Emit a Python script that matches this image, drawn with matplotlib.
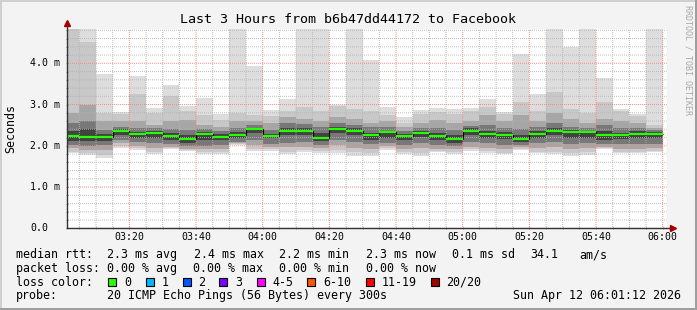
import matplotlib
matplotlib.use("Agg")
import matplotlib.pyplot as plt
import matplotlib.transforms as mtransforms
from matplotlib.patches import Rectangle
import numpy as np

# ---------------- data ----------------
bin_start = ["03:00", "03:05", "03:10", "03:15", "03:20", "03:25", "03:30", "03:35", "03:40", "03:45", "03:50", "03:55",
             "04:00", "04:05", "04:10", "04:15", "04:20", "04:25", "04:30", "04:35", "04:40", "04:45", "04:50", "04:55",
             "05:00", "05:05", "05:10", "05:15", "05:20", "05:25", "05:30", "05:35", "05:40", "05:45", "05:50", "05:55"]
bin_minutes = 5

# sorted-ping envelope per 5 minute step (ms): outer -> inner
ping_max = [5.5, 5.5, 3.74, 2.81, 3.69, 2.92, 3.47, 2.97, 3.17, 2.78, 5.5, 3.94,
            2.87, 3.14, 5.5, 5.5, 3.00, 5.5, 4.08, 2.95, 2.70, 2.87, 2.92, 2.90,
            2.92, 3.14, 2.82, 4.23, 3.26, 5.5, 4.39, 5.5, 3.64, 2.90, 2.78, 5.5]
ping_hi2 = [5.5, 4.52, 2.79, 2.76, 3.26, 2.80, 3.20, 2.85, 2.75, 2.62, 2.80, 2.75,
            2.72, 2.84, 2.95, 2.84, 2.96, 2.90, 2.85, 2.75, 2.55, 2.78, 2.83, 2.78,
            2.85, 2.95, 2.78, 3.07, 2.84, 3.31, 2.90, 2.80, 3.05, 2.85, 2.72, 2.50]
ping_hi3 = [2.79, 3.00, 2.60, 2.60, 2.60, 2.50, 2.60, 2.63, 2.50, 2.45, 2.60, 2.60,
            2.55, 2.70, 2.65, 2.60, 2.70, 2.65, 2.55, 2.60, 2.45, 2.55, 2.62, 2.55,
            2.60, 2.75, 2.60, 2.75, 2.60, 2.80, 2.65, 2.55, 2.65, 2.60, 2.55, 2.42]
ping_hi4 = [2.55, 2.60, 2.38, 2.45, 2.42, 2.42, 2.40, 2.38, 2.40, 2.35, 2.42, 2.50,
            2.38, 2.55, 2.52, 2.45, 2.55, 2.50, 2.45, 2.45, 2.35, 2.42, 2.42, 2.38,
            2.48, 2.50, 2.42, 2.40, 2.45, 2.55, 2.45, 2.42, 2.50, 2.42, 2.42, 2.38]
ping_hi5 = [2.35, 2.40, 2.28, 2.40, 2.34, 2.36, 2.30, 2.25, 2.33, 2.28, 2.33, 2.44,
            2.28, 2.42, 2.42, 2.32, 2.46, 2.42, 2.32, 2.37, 2.29, 2.36, 2.30, 2.25,
            2.42, 2.37, 2.33, 2.25, 2.35, 2.42, 2.38, 2.37, 2.35, 2.32, 2.35, 2.33]
median   = [2.24, 2.22, 2.22, 2.36, 2.29, 2.32, 2.24, 2.16, 2.29, 2.22, 2.27, 2.41,
            2.24, 2.37, 2.36, 2.19, 2.41, 2.36, 2.26, 2.33, 2.24, 2.32, 2.24, 2.16,
            2.36, 2.29, 2.26, 2.16, 2.29, 2.36, 2.33, 2.33, 2.25, 2.26, 2.29, 2.29]
ping_lo5 = [2.12, 2.12, 2.12, 2.25, 2.20, 2.20, 2.15, 2.08, 2.15, 2.15, 2.18, 2.30,
            2.18, 2.25, 2.25, 2.12, 2.30, 2.25, 2.15, 2.20, 2.14, 2.22, 2.15, 2.08,
            2.25, 2.20, 2.17, 2.10, 2.20, 2.25, 2.20, 2.20, 2.15, 2.17, 2.20, 2.20]
ping_lo4 = [2.02, 2.00, 2.02, 2.15, 2.10, 2.08, 2.05, 2.00, 2.00, 2.03, 2.10, 2.15,
            2.05, 2.08, 2.10, 2.03, 2.15, 2.10, 2.05, 2.08, 2.02, 2.08, 2.02, 2.00,
            2.10, 2.06, 2.02, 2.02, 2.06, 2.10, 2.05, 2.06, 2.05, 2.04, 2.05, 2.05]
ping_lo3 = [1.94, 1.90, 1.90, 2.07, 2.00, 1.95, 1.98, 1.93, 1.92, 1.93, 2.06, 2.02,
            1.97, 1.96, 1.98, 1.95, 2.02, 1.95, 1.92, 2.00, 1.93, 1.95, 1.92, 1.92,
            1.98, 1.95, 1.92, 1.96, 1.94, 1.98, 1.92, 1.94, 1.98, 1.93, 1.93, 1.95]
ping_lo2 = [1.86, 1.82, 1.78, 2.00, 1.94, 1.85, 1.95, 1.90, 1.84, 1.84, 2.04, 1.93,
            1.92, 1.86, 1.90, 1.88, 1.90, 1.85, 1.82, 1.94, 1.85, 1.82, 1.88, 1.85,
            1.92, 1.87, 1.83, 1.93, 1.86, 1.86, 1.82, 1.84, 1.95, 1.86, 1.86, 1.88]
ping_min = [1.82, 1.78, 1.71, 1.94, 1.90, 1.79, 1.92, 1.87, 1.79, 1.79, 2.02, 1.88,
            1.88, 1.79, 1.86, 1.82, 1.82, 1.75, 1.75, 1.90, 1.80, 1.75, 1.85, 1.80,
            1.88, 1.83, 1.80, 1.90, 1.82, 1.80, 1.76, 1.77, 1.93, 1.82, 1.83, 1.86]

x_tick_labels = ["03:20", "03:40", "04:00", "04:20", "04:40", "05:00", "05:20", "05:40", "06:00"]
y_tick_values = [0, 1, 2, 3, 4]
y_tick_labels = ["0.0", "1.0 m", "2.0 m", "3.0 m", "4.0 m"]

title = "Last 3 Hours from b6b47dd44172 to Facebook"
rtt_stats = ["median rtt:", "2.3 ms avg", "2.4 ms max", "2.2 ms min", "2.3 ms now", "0.1 ms sd", "34.1", "am/s"]
loss_stats = ["packet loss:", "0.00 % avg", "0.00 % max", "0.00 % min", "0.00 % now"]
loss_labels = ["0", "1", "2", "3", "4-5", "6-10", "11-19", "20/20"]
loss_colors = ["#26ff00", "#00b8ff", "#0059ff", "#7e00ff", "#ff00ff", "#ff5500", "#ff0000", "#a10000"]
probe_text = ["probe:", "20 ICMP Echo Pings (56 Bytes) every 300s", "Sun Apr 12 06:01:12 2026"]

# ---------------- helpers ----------------
def hm(s):
    h, m = s.split(":")
    return int(h) * 60 + int(m)

x0 = np.array([hm(s) for s in bin_start], dtype=float)
edges = np.append(x0, x0[-1] + bin_minutes)

W, H = 697, 310
FONT = "DejaVu Sans Mono"
plt.rcParams["font.family"] = [FONT]

fig = plt.figure(figsize=(W / 100, H / 100), dpi=100)
fig.patch.set_facecolor("#f3f3f3")

def px(x, y):
    return (x / W, 1 - y / H)

# frame (rrdtool shading)
fig.add_artist(Rectangle((0, 1 - 2 / H), 1, 2 / H, transform=fig.transFigure, color="#cfcfcf", lw=0))
fig.add_artist(Rectangle((0, 0), 2 / W, 1, transform=fig.transFigure, color="#cfcfcf", lw=0))
fig.add_artist(Rectangle((1 - 2 / W, 0), 2 / W, 1, transform=fig.transFigure, color="#9e9e9e", lw=0))
fig.add_artist(Rectangle((0, 0), 1, 2 / H, transform=fig.transFigure, color="#9e9e9e", lw=0))

left, right, top, bottom = 66.7, 666.7, 29.3, 228.3
ax = fig.add_axes([left / W, (H - bottom) / H, (right - left) / W, (bottom - top) / H])
ax.set_facecolor("white")

xmin = hm("03:01") + 0.2
xmax = hm("06:01") + 0.2
ax.set_xlim(xmin, xmax)
ppm = 41.25
ax.set_ylim(0, (bottom - top) / ppm)

# smoke
bands = [(ping_min, ping_max, "#dddddd"),
         (ping_lo2, ping_hi2, "#c8c8c8"),
         (ping_lo3, ping_hi3, "#a6a6a6"),
         (ping_lo4, ping_hi4, "#787878"),
         (ping_lo5, ping_hi5, "#424242")]
for lo, hi, col in bands:
    lo = np.array(lo); hi = np.array(hi)
    ax.bar(x0, hi - lo, bottom=lo, width=bin_minutes, align="edge", color=col, linewidth=0, zorder=1)

# grid
ax.set_xticks([hm(s) for s in x_tick_labels])
ax.set_xticks(np.arange(hm("03:05"), xmax, 5), minor=True)
ax.set_yticks(y_tick_values)
ax.set_yticks(np.arange(0, 4.81, 0.2), minor=True)
ax.set_axisbelow(False)
ax.grid(which="minor", color="#b4b4b4", lw=0.72, ls=(0.7, (1, 1)), alpha=0.85, zorder=2, snap=False)
ax.grid(which="major", color="#ff8080", lw=0.72, ls=(0.7, (1, 1)), alpha=0.9, zorder=2, snap=False)

# median
ax.stairs(median, edges, baseline=None, color="black", lw=0.8, zorder=3)
ax.hlines(median, x0, x0 + bin_minutes, color=loss_colors[0], lw=1.6, zorder=4)

# axes styling
for s in ax.spines.values():
    s.set_visible(False)
ax.tick_params(which="both", length=2, width=0.7, color="#909090", direction="inout")
ax.set_xticklabels(x_tick_labels, fontsize=7.1, family=FONT)
ax.tick_params(axis="x", pad=2)
ax.set_yticklabels([])
blend = mtransforms.blended_transform_factory(ax.transAxes, ax.transData)
for v, lab in zip(y_tick_values, y_tick_labels):
    ax.text((30 - left) / (right - left), v, lab, transform=blend, ha="left", va="center",
            fontsize=7.1, family=FONT)

# axis lines with arrows
ax.plot([0, 0], [0, 1.02], transform=ax.transAxes, color="#333333", lw=1, clip_on=False, zorder=5)
ax.plot([0, 1.005], [0, 0], transform=ax.transAxes, color="#333333", lw=1, clip_on=False, zorder=5)
ax.plot([0], [1.03], transform=ax.transAxes, marker="^", ms=4.5, color="#a00000", clip_on=False, zorder=6)
ax.plot([1.011], [0], transform=ax.transAxes, marker=">", ms=4.5, color="#a00000", clip_on=False, zorder=6)

# texts
fig.text(*px(348, 19.5), title, ha="center", va="center", fontsize=9.6, family=FONT)
fig.text(*px(10.5, 128.5), "Seconds", rotation=90, ha="center", va="center", fontsize=8.4, family=FONT)
fig.text(*px(688, 60), "RRDTOOL / TOBI OETIKER", rotation=270, ha="center", va="center",
         fontsize=6, family=FONT, color="#a8a8a8")

LS = 8.4
row_y = [254.7, 268.3, 282.3, 296.0]
for xx, t in zip([16, 107.3, 194, 279.3, 365.7, 451.7, 530, 579.3], rtt_stats):
    fig.text(*px(xx, row_y[0]), t, ha="left", va="center", fontsize=LS, family=FONT)
for xx, t in zip([16, 107.3, 193.3, 279.3, 365.7], loss_stats):
    fig.text(*px(xx, row_y[1]), t, ha="left", va="center", fontsize=LS, family=FONT)
fig.text(*px(16, row_y[2]), "loss color:", ha="left", va="center", fontsize=LS, family=FONT)
for xx, lab, col in zip([108.3, 145.7, 182.7, 219.3, 256.7, 307.3, 365.7, 431], loss_labels, loss_colors):
    fig.add_artist(Rectangle(px(xx, row_y[2] + 4), 8 / W, 8 / H, transform=fig.transFigure,
                             facecolor=col, edgecolor="black", lw=0.8))
    fig.text(*px(xx + 15.5, row_y[2]), lab, ha="left", va="center", fontsize=LS, family=FONT)
for xx, t in zip([16, 107.3, 513.3], probe_text):
    fig.text(*px(xx, row_y[3]), t, ha="left", va="center", fontsize=LS, family=FONT)

fig.savefig("out.png", dpi=100, facecolor=fig.get_facecolor())
